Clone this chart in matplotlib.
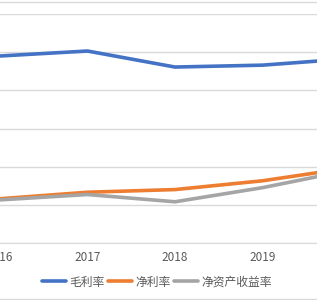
import matplotlib
matplotlib.use('Agg')
import matplotlib.pyplot as plt
from matplotlib.lines import Line2D

plt.rcParams['font.family'] = ['Noto Sans CJK SC', 'DejaVu Sans']

years = ['2016', '2017', '2018', '2019', '2020']
gross = [49.0, 50.3, 46.1, 46.6, 48.3]
net = [11.6, 13.3, 14.0, 16.3, 19.7]
roe = [11.3, 12.7, 10.8, 14.5, 19.1]
names = ['毛利率', '净利率', '净资产收益率']
colors = ['#4472C4', '#ED7D31', '#A5A5A5']

fig = plt.figure(figsize=(3.17, 3.0), dpi=100)
# axes wider than the figure: the reference is a crop of a bigger chart
ax = fig.add_axes([-43.75 / 317, 57 / 300, 437.5 / 317, 229 / 300])

x = range(len(years))
for vals, name, c in zip([gross, net, roe], names, colors):
    ax.plot(x, vals, color=c, lw=2.6, label=name, solid_capstyle='round')

ax.set_xlim(-0.5, 4.5)
ax.set_ylim(0, 60)
ax.set_yticks(range(0, 61, 10))
ax.yaxis.grid(True, color='#d9d9d9', lw=1)
ax.set_axisbelow(True)
for s in ['left', 'right', 'top']:
    ax.spines[s].set_visible(False)
ax.spines['bottom'].set_color('#d9d9d9')
ax.tick_params(axis='y', length=0, labelleft=False)
ax.tick_params(axis='x', length=0, labelsize=8.5, labelcolor='#595959', pad=6)
ax.set_xticks(list(x))
ax.set_xticklabels(years)

fig.legend(loc='center', bbox_to_anchor=(157 / 317, 18 / 300), ncol=3, frameon=False,
           fontsize=8.5, handlelength=2.0, handletextpad=0.3, columnspacing=0.3,
           labelcolor='#595959')

# chart border lines at top and bottom
fig.add_artist(Line2D([0, 1], [1 - 1.5 / 300, 1 - 1.5 / 300], color='#d9d9d9', lw=1))
fig.add_artist(Line2D([0, 1], [1.5 / 300, 1.5 / 300], color='#d9d9d9', lw=1))

fig.savefig('out.png', dpi=100)
